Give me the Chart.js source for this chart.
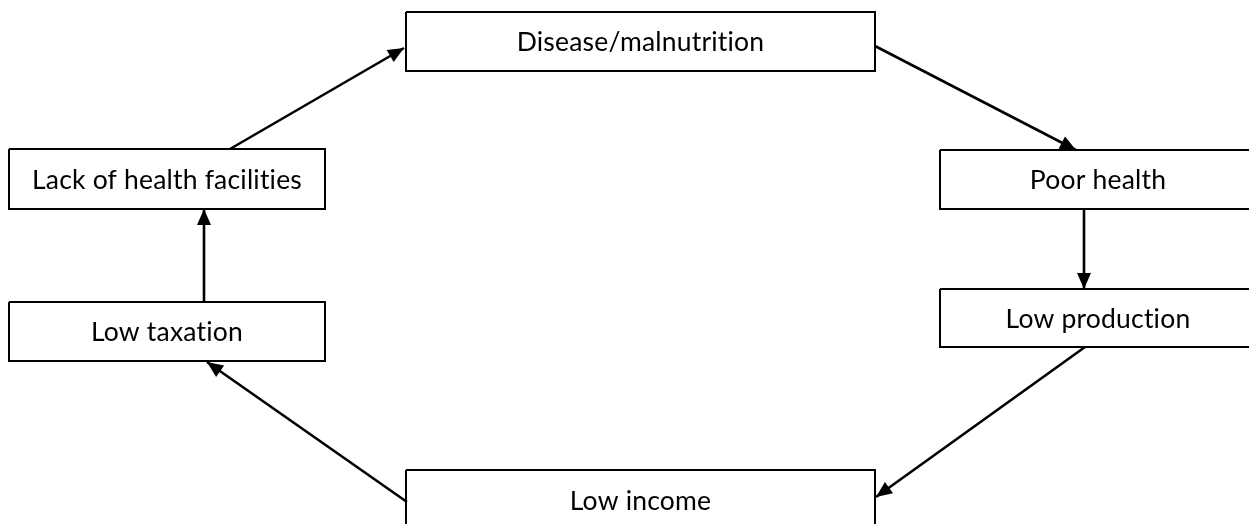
<!DOCTYPE html>
<html>
<head>
<meta charset="utf-8">
<script src="https://cdn.jsdelivr.net/npm/chart.js@4"></script>
<style>
  html, body { margin: 0; padding: 0; background: #fff; }
  canvas { display: block; }
</style>
</head>
<body>
<canvas id="cycle" width="1249" height="524"></canvas>
<script>
// boxes in the cycle (diagram units, y grows downward)
const nodeLabels = ["Disease/malnutrition", "Poor health", "Low production", "Low income", "Low taxation", "Lack of health facilities"];
const nodeLeft   = [406, 940, 940, 406, 9, 9];
const nodeRight  = [875, 1256, 1256, 875, 325, 325];
const nodeTop    = [12, 150, 289, 470, 302, 149];
const nodeBottom = [71, 209, 347, 530, 361, 209];

// arrows: start point -> tip
const arrowFromX = [875, 1084, 1085, 407, 204, 230];
const arrowFromY = [46, 209, 347, 502, 302, 149];
const arrowToX   = [1076, 1084, 876, 207, 204, 404];
const arrowToY   = [150, 289, 497, 362, 209, 48];

const datasets = [];

for (let i = 0; i < nodeLabels.length; i++) {
  datasets.push({
    label: nodeLabels[i],
    data: [
      { x: nodeLeft[i], y: nodeTop[i] },
      { x: nodeRight[i], y: nodeTop[i] },
      { x: nodeRight[i], y: nodeBottom[i] },
      { x: nodeLeft[i], y: nodeBottom[i] },
      { x: nodeLeft[i], y: nodeTop[i] }
    ],
    showLine: true,
    borderColor: "#000",
    borderWidth: 2,
    pointRadius: 0,
    fill: false,
    tension: 0
  });
}

for (let i = 0; i < arrowFromX.length; i++) {
  datasets.push({
    label: "arrow" + i,
    data: [
      { x: arrowFromX[i], y: arrowFromY[i] },
      { x: arrowToX[i], y: arrowToY[i] }
    ],
    showLine: true,
    borderColor: "#000",
    borderWidth: 2.6,
    pointRadius: 0,
    fill: false,
    tension: 0
  });
}

// arrow heads and box captions
const diagramPlugin = {
  id: "diagram",
  afterDatasetsDraw(chart) {
    const ctx = chart.ctx;
    const xs = chart.scales.x;
    const ys = chart.scales.y;
    ctx.save();
    ctx.fillStyle = "#000";

    for (let i = 0; i < arrowFromX.length; i++) {
      const x0 = xs.getPixelForValue(arrowFromX[i]);
      const y0 = ys.getPixelForValue(arrowFromY[i]);
      const x1 = xs.getPixelForValue(arrowToX[i]);
      const y1 = ys.getPixelForValue(arrowToY[i]);
      const a = Math.atan2(y1 - y0, x1 - x0);
      const len = 16, half = 7;
      ctx.beginPath();
      ctx.moveTo(x1, y1);
      ctx.lineTo(x1 - len * Math.cos(a) + half * Math.sin(a), y1 - len * Math.sin(a) - half * Math.cos(a));
      ctx.lineTo(x1 - len * Math.cos(a) - half * Math.sin(a), y1 - len * Math.sin(a) + half * Math.cos(a));
      ctx.closePath();
      ctx.fill();
    }

    ctx.font = "26.5px Lato, 'Open Sans', sans-serif";
    ctx.letterSpacing = "0.2px"; // also turns off the "ti" ligature
    ctx.textAlign = "center";
    ctx.textBaseline = "middle";
    for (let i = 0; i < nodeLabels.length; i++) {
      const cx = xs.getPixelForValue((nodeLeft[i] + nodeRight[i]) / 2);
      const cy = ys.getPixelForValue((nodeTop[i] + nodeBottom[i]) / 2);
      ctx.fillText(nodeLabels[i], cx, cy + 1);
    }
    ctx.restore();
  }
};

new Chart(document.getElementById("cycle"), {
  type: "scatter",
  data: { datasets },
  options: {
    responsive: false,
    animation: false,
    devicePixelRatio: 1,
    layout: { padding: 0 },
    plugins: {
      legend: { display: false },
      tooltip: { enabled: false }
    },
    scales: {
      x: { type: "linear", min: 0, max: 1249, display: false },
      y: { type: "linear", min: 0, max: 524, reverse: true, display: false }
    }
  },
  plugins: [diagramPlugin]
});
</script>
</body>
</html>
